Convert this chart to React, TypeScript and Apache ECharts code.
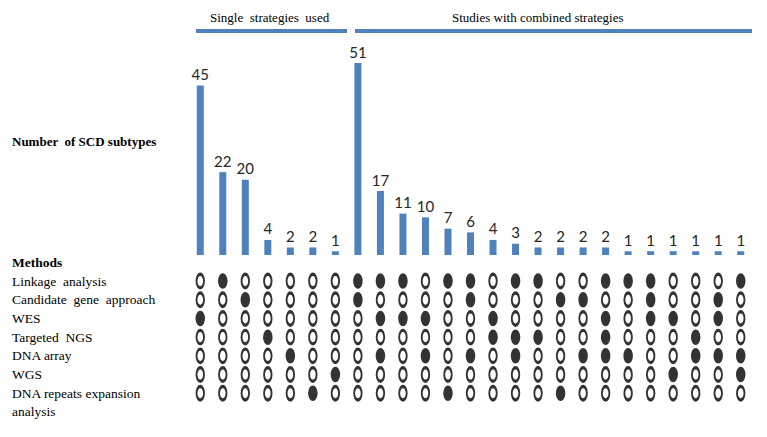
import React, { useEffect, useRef } from "react";
import * as echarts from "echarts";

// ---------- data ----------
const columns = [
  "S1", "S2", "S3", "S4", "S5", "S6", "S7",
  "C1", "C2", "C3", "C4", "C5", "C6", "C7", "C8", "C9",
  "C10", "C11", "C12", "C13", "C14", "C15", "C16", "C17", "C18",
];
const subtypeCounts = [45, 22, 20, 4, 2, 2, 1, 51, 17, 11, 10, 7, 6, 4, 3, 2, 2, 2, 2, 1, 1, 1, 1, 1, 1];

const methods = [
  "Linkage  analysis",
  "Candidate  gene  approach",
  "WES",
  "Targeted  NGS",
  "DNA array",
  "WGS",
  "DNA repeats expansion\nanalysis",
];

const linkageUsed = [0, 1, 0, 0, 0, 0, 0, 1, 1, 1, 0, 1, 1, 0, 1, 1, 0, 0, 1, 1, 1, 0, 0, 0, 1];
const candidateUsed = [0, 0, 1, 0, 0, 0, 0, 1, 0, 0, 0, 0, 1, 0, 0, 0, 1, 1, 0, 0, 1, 0, 0, 1, 0];
const wesUsed = [1, 0, 0, 0, 0, 0, 0, 0, 1, 1, 1, 0, 0, 1, 0, 0, 0, 0, 1, 0, 1, 1, 0, 1, 0];
const targetedUsed = [0, 0, 0, 1, 0, 0, 0, 0, 0, 0, 0, 0, 0, 1, 1, 1, 0, 0, 1, 0, 0, 0, 1, 0, 0];
const arrayUsed = [0, 0, 0, 0, 1, 0, 0, 0, 1, 0, 1, 0, 1, 0, 1, 0, 0, 1, 1, 1, 0, 0, 1, 1, 1];
const wgsUsed = [0, 0, 0, 0, 0, 0, 1, 0, 0, 0, 0, 0, 0, 0, 0, 0, 0, 0, 0, 0, 0, 1, 0, 0, 1];
const repeatsUsed = [0, 0, 0, 0, 0, 1, 0, 0, 0, 0, 0, 1, 0, 0, 0, 0, 1, 0, 0, 0, 0, 0, 0, 0, 0];

const usage = [linkageUsed, candidateUsed, wesUsed, targetedUsed, arrayUsed, wgsUsed, repeatsUsed];

const groupTitles = ["Single  strategies  used", "Studies with combined strategies"];

// ---------- chart ----------
const BLUE = "#4F81BD";
const SERIF = "'Liberation Serif', 'Times New Roman', serif";
const ELLIPSE = "path://M0,-1A1,1 0 1,1 0,1A1,1 0 1,1 0,-1Z";

export default function App() {
  const ref = useRef<HTMLDivElement>(null);

  useEffect(() => {
    document.body.style.margin = "0";
    if (!ref.current) return;
    const chart = echarts.init(ref.current, undefined, { renderer: "svg" });

    const filled: number[][] = [];
    const hollow: number[][] = [];
    usage.forEach((row, r) => {
      row.forEach((v, c) => {
        (v ? filled : hollow).push([c, r]);
      });
    });

    const gridLeft = 189;
    const gridWidth = 563;

    chart.setOption({
      animation: false,
      backgroundColor: "#ffffff",
      grid: [
        { left: gridLeft, width: gridWidth, top: 63, height: 192 },
        { left: gridLeft, width: gridWidth, top: 271.7, height: 130.9 },
      ],
      xAxis: [
        { type: "category", gridIndex: 0, data: columns, show: false },
        { type: "category", gridIndex: 1, data: columns, show: false },
      ],
      yAxis: [
        { type: "value", gridIndex: 0, min: 0, max: 51, show: false },
        {
          type: "category",
          gridIndex: 1,
          data: methods,
          inverse: true,
          axisLine: { show: false },
          axisTick: { show: false },
          splitLine: { show: false },
          axisLabel: {
            interval: 0,
            hideOverlap: false,
            align: "left",
            margin: gridLeft - 12,
            fontFamily: SERIF,
            fontSize: 13.5,
            color: "#000",
            lineHeight: 18,
            formatter: (v: string) => (v.indexOf("\n") >= 0 ? " \n" + v : v),
          },
        },
      ],
      graphic: [
        {
          type: "text",
          left: 12,
          top: 135,
          style: { text: "Number  of SCD subtypes", font: `bold 13px ${SERIF}`, fill: "#000" },
        },
        {
          type: "text",
          left: 12,
          top: 255,
          style: { text: "Methods", font: `bold 13.5px ${SERIF}`, fill: "#000" },
        },
        {
          type: "text",
          left: 210,
          top: 11,
          style: { text: groupTitles[0], font: `13px ${SERIF}`, fill: "#000" },
        },
        {
          type: "text",
          left: 452,
          top: 11,
          style: { text: groupTitles[1], font: `13px ${SERIF}`, fill: "#000" },
        },
        {
          type: "line",
          shape: { x1: 196, y1: 31, x2: 347, y2: 31 },
          style: { stroke: BLUE, lineWidth: 4 },
        },
        {
          type: "line",
          shape: { x1: 355, y1: 31, x2: 752, y2: 31 },
          style: { stroke: BLUE, lineWidth: 4 },
        },
      ],
      series: [
        {
          type: "bar",
          xAxisIndex: 0,
          yAxisIndex: 0,
          data: subtypeCounts,
          barWidth: 7,
          itemStyle: { color: BLUE },
          label: {
            show: true,
            position: "top",
            distance: 4,
            fontFamily: "Lato, 'Open Sans', sans-serif",
            fontSize: 15,
            color: "#262626",
          },
        },
        {
          type: "scatter",
          xAxisIndex: 1,
          yAxisIndex: 1,
          data: hollow,
          symbol: ELLIPSE,
          symbolSize: [7.5, 13.5],
          itemStyle: { color: "#ffffff", borderColor: "#000", borderWidth: 2.5 },
        },
        {
          type: "scatter",
          xAxisIndex: 1,
          yAxisIndex: 1,
          data: filled,
          symbol: ELLIPSE,
          symbolSize: [9.5, 15.5],
          itemStyle: { color: "#000" },
        },
      ],
    });

    return () => chart.dispose();
  }, []);

  return (
    <div
      ref={ref}
      style={{ position: "absolute", left: 0, top: 0, width: 767, height: 437, background: "#fff" }}
    />
  );
}
